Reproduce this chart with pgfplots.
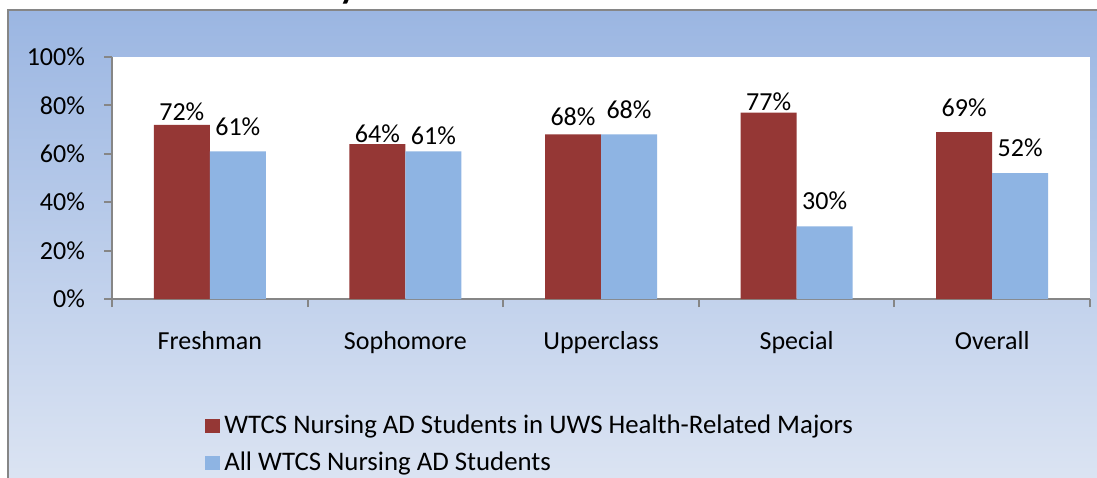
\documentclass[border=0pt]{standalone}
\usepackage{pgfplots}
\pgfplotsset{compat=1.18}
\usepackage{fontspec}
\setmainfont{Carlito}
\definecolor{barred}{RGB}{149,55,53}
\definecolor{barblue}{RGB}{142,180,227}
\definecolor{bgtop}{RGB}{155,182,226}
\definecolor{bgbot}{RGB}{221,229,243}
\definecolor{framegray}{RGB}{134,134,134}
\definecolor{axgray}{RGB}{134,134,134}
% offr/offb: gap (px) between bar top and label baseline
\pgfplotstableread{
idx uws all offr offb
0 72 61 4.5 15.5
1 64 61 1.5 6.5
2 68 68 8.5 15.5
3 77 30 2.5 16.5
4 69 52 15.5 16.5
}\datatable
\begin{document}
\begin{tikzpicture}
\useasboundingbox (0,0) rectangle (548.5pt,238.5pt);
\clip (0,0) rectangle (548.5pt,238.5pt);
\shade[top color=bgtop, bottom color=bgbot] (4pt,-8pt) rectangle (560pt,233.5pt);
\draw[framegray, line width=1.2pt] (4pt,-8pt) -- (4pt,233.5pt) -- (560pt,233.5pt);
\node[anchor=base, font=\bfseries\fontsize{18}{20}\selectfont] at (174pt,239pt) {y};
\begin{axis}[
  at={(56pt,89pt)}, anchor=south west,
  scale only axis, width=489pt, height=121pt,
  xmin=-0.5, xmax=4.5, ymin=0, ymax=100,
  ybar=0pt, bar width=28pt,
  axis lines=left,
  axis line style={-, draw=axgray, line width=1pt},
  every outer x axis line/.append style={-},
  every outer y axis line/.append style={-},
  every inner x axis line/.append style={-},
  every inner y axis line/.append style={-},
  axis background/.style={fill=white},
  ytick={0,20,...,100},
  yticklabel={\pgfmathprintnumber{\tick}\%},
  xtick={-0.5,0.5,...,4.5},
  x tick label as interval,
  xticklabels={Freshman,Sophomore,Upperclass,Special,Overall},
  tick align=outside, major tick length=4pt,
  tick style={draw=axgray, line width=1pt},
  /pgf/number format/assume math mode=true,
  tick label style={font=\fontsize{13}{15}\selectfont},
  yticklabel style={xshift=-6pt},
  xticklabel style={yshift=-8.5pt},
  legend style={at={(0.095,-0.46)}, anchor=north west, draw=none, fill=none,
    font=\fontsize{13.4}{15.5}\selectfont, row sep=4pt, inner sep=0pt},
  legend cell align=left,
  legend image code/.code={\fill[#1] (0pt,-3.5pt) rectangle (7.5pt,3.5pt);},
]
\addplot[fill=barred, draw=none,
  visualization depends on={\thisrow{offr} \as \off},
  nodes near coords={\pgfmathprintnumber{\pgfplotspointmeta}\%},
  every node near coord/.append style={font=\fontsize{13}{15}\selectfont, text=black,
    anchor=base, inner sep=0pt, yshift=\off*0.5pt}]
  table[x=idx,y=uws]{\datatable};
\addlegendentry{WTCS Nursing AD Students in UWS Health-Related Majors}
\addplot[fill=barblue, draw=none,
  visualization depends on={\thisrow{offb} \as \off},
  nodes near coords={\pgfmathprintnumber{\pgfplotspointmeta}\%},
  every node near coord/.append style={font=\fontsize{13}{15}\selectfont, text=black,
    anchor=base, inner sep=0pt, yshift=\off*0.5pt}]
  table[x=idx,y=all]{\datatable};
\addlegendentry{All WTCS Nursing AD Students}
\end{axis}
\end{tikzpicture}
\end{document}
